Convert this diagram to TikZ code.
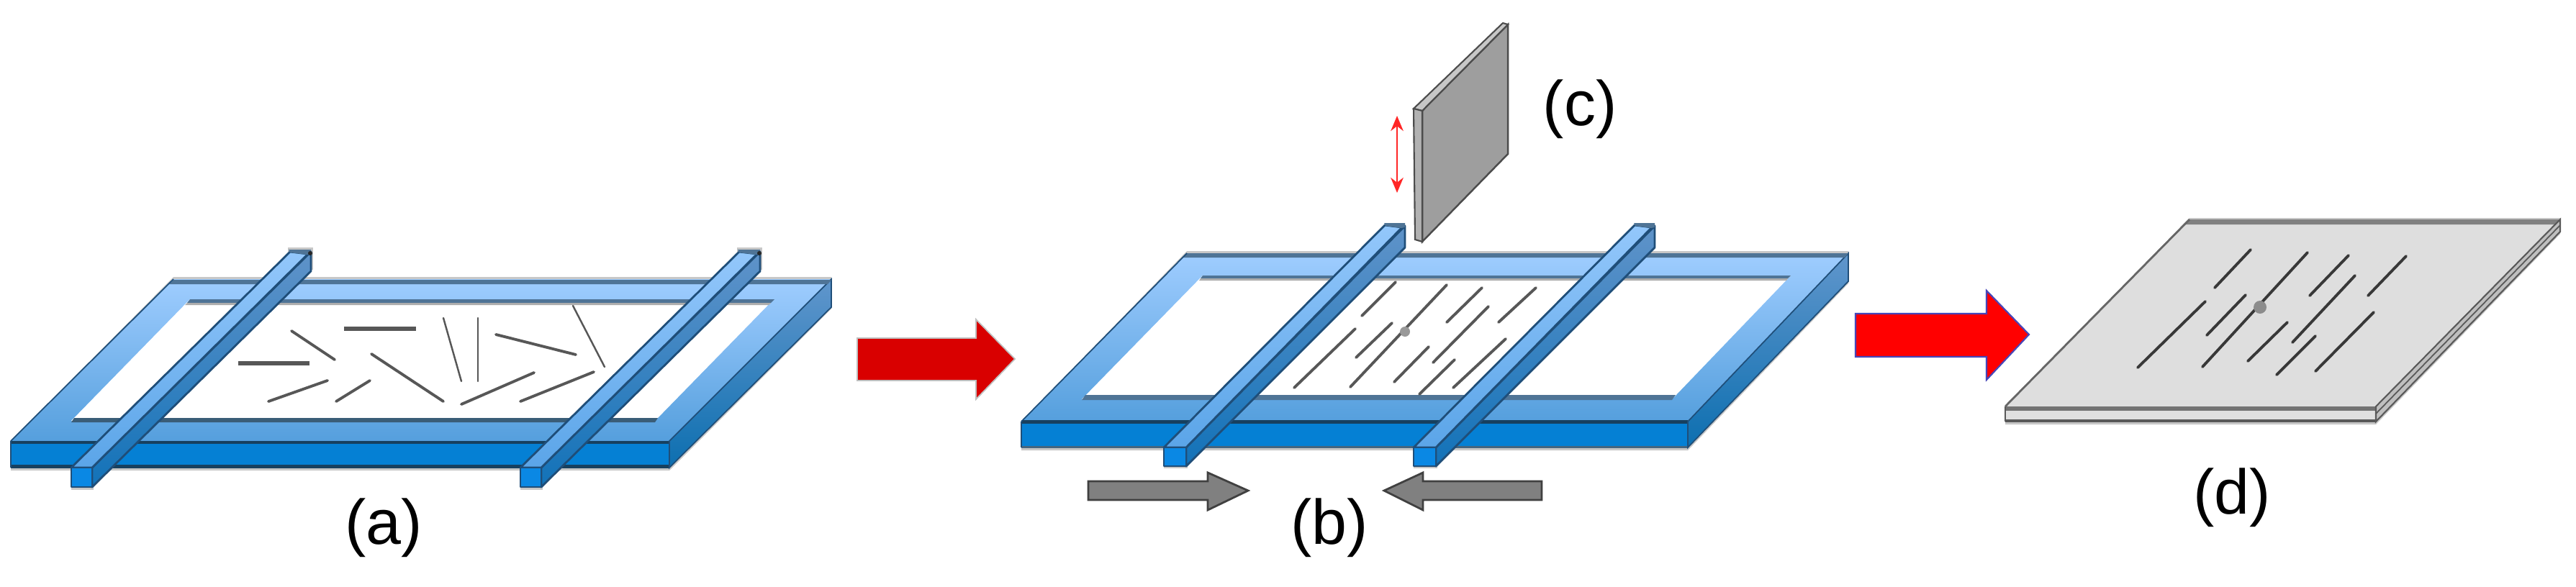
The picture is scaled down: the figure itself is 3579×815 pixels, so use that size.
\documentclass[tikz,border=0pt]{standalone}
\usepackage{fontspec}
\setmainfont{Liberation Sans}
\usetikzlibrary{arrows.meta}
\definecolor{edgeblue}{HTML}{1F4E79}
\definecolor{darkedge}{HTML}{17405F}
\definecolor{wallband}{HTML}{4F7496}
\definecolor{topback}{HTML}{9FCDFF}
\definecolor{topfront}{HTML}{559FDD}
\definecolor{frontface}{HTML}{0580D4}
\definecolor{sideback}{HTML}{6096CC}
\definecolor{sidefront}{HTML}{0D6FB0}
\definecolor{barlightback}{HTML}{93C7FB}
\definecolor{barlightfront}{HTML}{5BA5E8}
\definecolor{barsideback}{HTML}{5F93C9}
\definecolor{barsidefront}{HTML}{1272B8}
\definecolor{barfront}{HTML}{0A88E4}
\tikzset{
  x=0.01cm,y=-0.01cm,
  outline/.style={draw=edgeblue,line width=0.8pt,line join=round},
  softshadow/.style={fill=black!22,draw=none},
  toptone/.style={top color=topback,bottom color=topfront,draw=none},
  sidetone/.style={top color=sideback,bottom color=sidefront,draw=none},
  wallshade/.style={fill=wallband,draw=none},
  bartop/.style={top color=barlightback,bottom color=barlightfront,outline},
  barsidef/.style={top color=barsideback,bottom color=barsidefront,outline},
  barfrontf/.style={fill=barfront,outline},
  barend/.style={fill=wallband,draw=none},
  fibre/.style={draw=black!66,line cap=round},
  fibrethin/.style={fibre,line width=0.7pt},
  fibremid/.style={fibre,line width=1.1pt},
  fibrethick/.style={fibre,line width=1.9pt,line cap=butt},
  fibredark/.style={draw=black!78,line width=1.1pt,line cap=round},
  labeltext/.style={font=\fontsize{25}{30}\selectfont,inner sep=0pt,text=black},
  redarrowdark/.style={fill=red!85!black,draw=black!25,line width=0.5pt},
  redarrowbright/.style={fill=red,draw=blue!45!gray,line width=0.6pt},
  greyarrow/.style={fill=black!50,draw=black!75,line width=0.8pt},
  platetop/.style={fill=black!13,draw=none},
}
\begin{document}
\begin{tikzpicture}
\useasboundingbox (0,0) rectangle (3579,815);
\fill[white] (0,0) rectangle (3579,815);

%% ---------- (a) frame
\fill[softshadow] (15,654)--(930,654)--(1155,429)--(1155,385)--(241,385)--(15,613)--cycle;
\shade[toptone] (241,388)--(1155,388)--(930,613)--(15,613)--cycle;
\fill[white] (264,416)--(1075,416)--(910,585)--(99,585)--cycle;
\fill[wallshade] (264,416)--(1076,416)--(1071,421)--(260,421)--cycle;
\fill[black!32] (260,421)--(1071,421)--(1068,424)--(257,424)--cycle;
\fill[darkedge!85!white] (103,581)--(914,581)--(910,587)--(99,587)--cycle;
\fill[frontface] (15,613)--(930,613)--(930,650)--(15,650)--cycle;
\shade[sidetone] (930,613)--(1155,388)--(1155,427)--(930,650)--cycle;
\fill[darkedge] (15,613)--(930,613)--(930,617)--(15,617)--cycle;
\fill[darkedge] (15,646)--(930,646)--(930,651)--(15,651)--cycle;
\draw[line width=0.5pt,edgeblue] (930,613)--(930,650)--(1155,427)--(1155,388)--cycle;
\fill[wallband] (241,389)--(1155,389)--(1150,395)--(235,395)--cycle;
\draw[line width=0.5pt,edgeblue] (15,613)--(241,388);
\draw[line width=0.5pt,edgeblue] (15,613)--(15,650);

%% fibres (a)
\draw[fibremid] (405,460)--(465,500);
\draw[fibrethick] (478,457)--(578,457);
\draw[fibrethin] (616,442)--(641,530);
\draw[fibrethin] (664,442)--(664,530);
\draw[fibremid] (689,465)--(800,493);
\draw[fibrethin] (796,425)--(840,510);
\draw[fibrethick] (331,505)--(430,505);
\draw[fibremid] (516,492)--(616,558);
\draw[fibremid] (373,558)--(455,529);
\draw[fibremid] (467,558)--(514,529);
\draw[fibremid] (641,562)--(742,518);
\draw[fibremid] (723,558)--(825,517);

%% bars (a)
\foreach \dx in {0,624}{
\begin{scope}[shift={(\dx,0)}]
  \fill[softshadow] (99,681)--(130,681)--(130,670)--(99,670)--cycle;
  \fill[softshadow] (400,344)--(435,344)--(435,375)--(400,375)--cycle;
  \shadedraw[barsidef] (128,650)--(128,677)--(432,377)--(432,350)--cycle;
  \shadedraw[bartop] (99,650)--(128,650)--(428,353)--(403,350)--cycle;
  \fill[barend] (401,347)--(432,347)--(432,353)--(426,354)--(403,351)--cycle;
  \fill[black!85] (431,352) circle (3);
  \draw[barfrontf] (99,650)--(128,650)--(128,677)--(99,677)--cycle;
\end{scope}}

%% ---------- red arrow 1
\draw[redarrowdark] (1191,470)--(1356,470)--(1356,444)--(1410,499)--(1356,555)--(1356,529)--(1191,529)--cycle;

%% ---------- (b) frame
\fill[softshadow] (1419,626)--(2345,626)--(2568,394)--(2568,349)--(1649,349)--(1419,586)--cycle;
\shade[toptone] (1649,352)--(2568,352)--(2345,586)--(1419,586)--cycle;
\fill[white] (1671,383)--(2488,383)--(2323,555)--(1503,555)--cycle;
\fill[wallshade] (1671,383)--(2488,383)--(2484,387)--(1668,387)--cycle;
\fill[black!32] (1668,387)--(2484,387)--(2482,390)--(1666,390)--cycle;
\fill[wallband] (1508,549)--(2328,549)--(2323,556)--(1503,556)--cycle;
\fill[frontface] (1419,586)--(2345,586)--(2345,622)--(1419,622)--cycle;
\shade[sidetone] (2345,586)--(2568,352)--(2568,391)--(2345,622)--cycle;
\fill[darkedge] (1419,584)--(2345,584)--(2345,589)--(1419,589)--cycle;
\fill[darkedge!80!white] (1419,620)--(2345,620)--(2345,623)--(1419,623)--cycle;
\draw[line width=0.5pt,edgeblue] (2345,586)--(2345,622)--(2568,391)--(2568,352)--cycle;
\fill[wallband] (1649,352)--(2568,352)--(2563,358)--(1643,358)--cycle;
\draw[line width=0.5pt,edgeblue] (1419,586)--(1649,352);
\draw[line width=0.5pt,edgeblue] (1419,586)--(1419,622);

%% fibres (b)
\draw[fibremid] (1939,392)--(1892,439);
\draw[fibremid] (2010,396)--(1876,538);
\draw[fibremid] (2059,400)--(2010,448);
\draw[fibremid] (2134,400)--(2082,448);
\draw[fibremid] (2068,426)--(1991,504);
\draw[fibremid] (1883,457)--(1798,539);
\draw[fibremid] (1934,449)--(1884,497);
\draw[fibremid] (1985,482)--(1937,531);
\draw[fibremid] (2021,500)--(1972,548);
\draw[fibremid] (2092,471)--(2019,539);
\fill[black!40] (1952,461) circle (7);

%% bars (b)
\foreach \dx in {0,347}{
\begin{scope}[shift={(\dx,0)}]
  \fill[softshadow] (1617,651)--(1650,651)--(1650,640)--(1617,640)--cycle;
  \shadedraw[barsidef] (1648,622)--(1648,648)--(1952,344)--(1952,314)--cycle;
  \shadedraw[bartop] (1617,622)--(1648,622)--(1948,316)--(1924,313)--cycle;
  \fill[barend] (1923,310)--(1952,310)--(1952,316)--(1947,317)--(1925,314)--cycle;
  \draw[barfrontf] (1617,622)--(1648,622)--(1648,648)--(1617,648)--cycle;
\end{scope}}

%% ---------- blade (c)
\draw[fill=black!38,draw=black!70,line width=0.7pt] (1976,154)--(2095,34)--(2095,214)--(1976,336)--cycle;
\draw[fill=black!22,draw=black!70,line width=0.6pt] (1964,151)--(2088,32)--(2095,34)--(1976,154)--cycle;
\draw[fill=black!30,draw=black!70,line width=0.6pt] (1964,151)--(1976,154)--(1976,336)--(1966,333)--cycle;
\coordinate (updown top) at (1941,161);
\coordinate (updown bottom) at (1941,268);
\draw[{Stealth[length=6pt,width=5pt]}-{Stealth[length=6pt,width=5pt]},line width=0.7pt,color=red!85] (updown top)--(updown bottom);

%% grey arrows
\draw[greyarrow] (1512,669)--(1678,669)--(1678,657)--(1734,682)--(1678,709)--(1678,695)--(1512,695)--cycle;
\draw[greyarrow] (2142,669)--(1977,669)--(1977,657)--(1923,682)--(1977,709)--(1977,695)--(2142,695)--cycle;

%% ---------- red arrow 2
\draw[redarrowbright] (2578,436)--(2760,436)--(2760,404)--(2819,465)--(2760,528)--(2760,496)--(2578,496)--cycle;

%% ---------- plate (d)
\fill[softshadow] (2786,590)--(3301,590)--(3557,325)--(3557,303)--(3042,303)--(2786,565)--cycle;
\fill[platetop] (3042,305)--(3557,305)--(3301,565)--(2786,565)--cycle;
\fill[black!50] (3042,305)--(3557,305)--(3552,312)--(3035,312)--cycle;
\fill[black!12] (2786,565)--(3301,565)--(3301,586)--(2786,586)--cycle;
\fill[black!55] (2786,565)--(3301,565)--(3301,571)--(2786,571)--cycle;
\fill[black!65] (2786,583)--(3301,583)--(3301,587)--(2786,587)--cycle;
\draw[fill=black!25,draw=black!65,line width=0.6pt] (3301,565)--(3557,305)--(3557,322)--(3301,586)--cycle;
\draw[black!65,line width=0.5pt] (3301,575)--(3557,313);
\draw[black!65,line width=0.8pt] (2786,565)--(2786,586);
\draw[black!60,line width=0.8pt] (2786,565)--(3042,305);

%% fibres (d)
\draw[fibredark] (3127,347)--(3077,400);
\draw[fibredark] (3206,351)--(3060,510);
\draw[fibredark] (3263,355)--(3209,411);
\draw[fibredark] (3343,356)--(3290,411);
\draw[fibredark] (3272,383)--(3185,476);
\draw[fibredark] (3064,419)--(2970,511);
\draw[fibredark] (3120,410)--(3066,466);
\draw[fibredark] (3178,448)--(3123,502);
\draw[fibredark] (3217,467)--(3163,521);
\draw[fibredark] (3298,434)--(3217,516);
\fill[black!45] (3140,427) circle (9);

%% labels
\node[labeltext] (la) at (533,734) {(a)};
\node[labeltext] (lb) at (1847,734) {(b)};
\node[labeltext] (lc) at (2195,152) {(c)};
\node[labeltext] (ld) at (3101,692) {(d)};
\end{tikzpicture}
\end{document}
